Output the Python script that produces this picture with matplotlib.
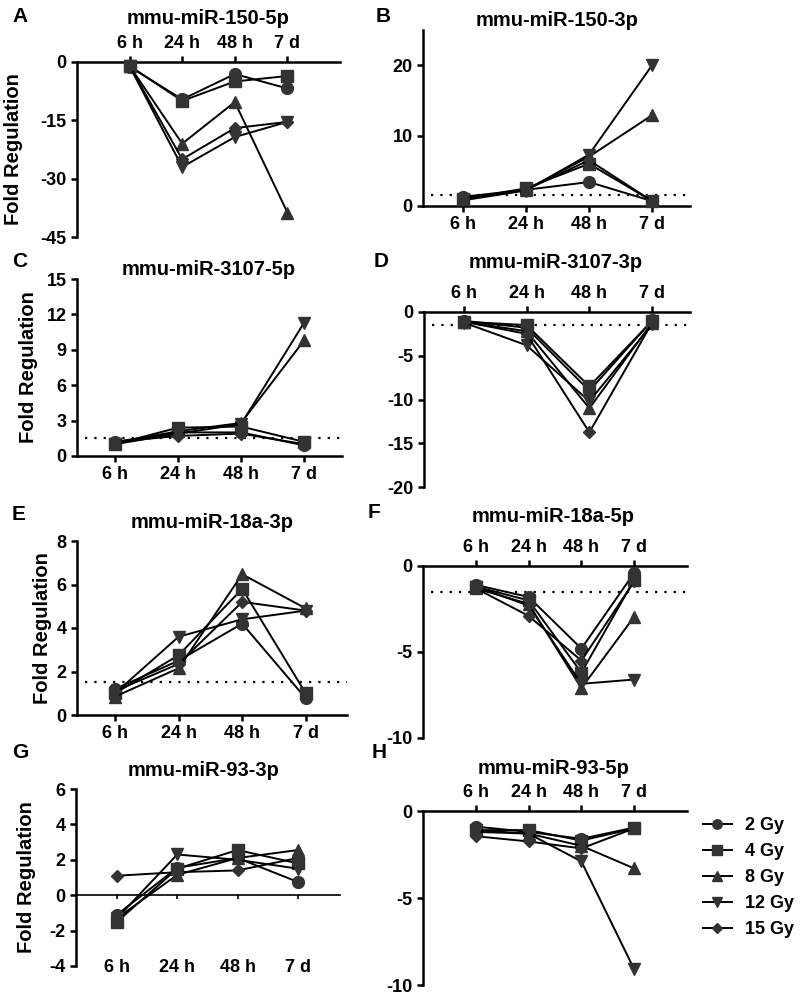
import numpy as np
import matplotlib.pyplot as plt

plt.rcParams['font.family'] = ['Liberation Sans', 'DejaVu Sans']
plt.rcParams['font.weight'] = 'bold'
plt.rcParams['axes.unicode_minus'] = False

times = ['6 h', '24 h', '48 h', '7 d']
doses = ['2 Gy', '4 Gy', '8 Gy', '12 Gy', '15 Gy']
markers = ['o', 's', '^', 'v', 'D']
msizes = [8.5, 8.5, 8.5, 8.5, 6.5]

# one row per dose (2, 4, 8, 12, 15 Gy), one column per time point
mir150_5p = [[-1.2, -9.6, -3.1, -6.8],
             [-1.0, -10.0, -5.0, -3.6],
             [-1.0, -21.0, -10.3, -38.7],
             [-1.1, -27.0, -19.3, -15.4],
             [-1.0, -25.0, -17.0, -15.4]]
mir150_3p = [[1.3, 2.3, 3.4, 0.7],
             [1.0, 2.5, 6.0, 0.7],
             [1.0, 2.3, 7.0, 12.9],
             [0.8, 2.2, 7.3, 20.0],
             [1.1, 2.3, 6.5, 0.7]]
mir3107_5p = [[1.2, 2.0, 2.0, 0.9],
              [1.0, 2.4, 2.5, 1.2],
              [1.1, 2.1, 2.8, 9.8],
              [1.0, 1.9, 2.7, 11.3],
              [1.2, 1.7, 1.9, 1.0]]
mir3107_3p = [[-1.0, -1.8, -9.0, -0.95],
              [-1.1, -1.5, -8.5, -1.0],
              [-1.1, -2.2, -11.0, -1.2],
              [-1.2, -3.8, -10.2, -1.4],
              [-1.1, -2.5, -13.75, -1.2]]
mir18a_3p = [[1.2, 2.5, 4.2, 0.77],
             [1.0, 2.75, 5.8, 1.0],
             [0.85, 2.15, 6.47, 4.9],
             [1.0, 3.6, 4.4, 4.8],
             [1.1, 2.35, 5.2, 4.8]]
mir18a_5p = [[-1.1, -1.8, -4.8, -0.4],
             [-1.2, -2.0, -6.2, -0.8],
             [-1.3, -2.2, -7.1, -2.95],
             [-1.2, -2.3, -6.85, -6.6],
             [-1.3, -2.9, -5.5, -0.9]]
mir93_3p = [[-1.1, 1.55, 2.1, 0.75],
            [-1.5, 1.5, 2.55, 1.8],
            [-1.3, 1.15, 2.1, 2.55],
            [-1.3, 2.3, 2.0, 1.5],
            [1.1, 1.3, 1.4, 2.1]]
mir93_5p = [[-0.9, -1.2, -1.6, -0.95],
            [-1.1, -1.1, -1.7, -1.0],
            [-1.1, -1.3, -2.0, -3.3],
            [-1.2, -1.3, -2.9, -9.1],
            [-1.45, -1.75, -2.15, -1.0]]

W, H = 800, 998
fig = plt.figure(figsize=(8, 9.98), dpi=100)


def box(l, r, t, b):
    return [l / W, 1 - b / H, (r - l) / W, (b - t) / H]


# letter, title, data, box, ylim, yticks, xlim, axis side, threshold, ylabel x, letter x/y, title x/y
panels = [
    ('A', 'mmu-miR-150-5p', mir150_5p, box(77, 340, 62, 237), (-45, 0), [0, -15, -30, -45],
     (0, 5), 'top', None, 14, (12, 16), (208, 18)),
    ('B', 'mmu-miR-150-3p', mir150_3p, box(423, 690, 30, 206), (0, 25), [0, 10, 20],
     (0.37, 4.6), 'bottom', 1.5, None, (376, 16), (557, 20)),
    ('C', 'mmu-miR-3107-5p', mir3107_5p, box(77, 342, 279, 456), (0, 15), [0, 3, 6, 9, 12, 15],
     (0.4, 4.6), 'bottom', 1.5, 29, (12, 262), (209, 270)),
    ('D', 'mmu-miR-3107-3p', mir3107_3p, box(424, 690, 312, 487), (-20, 0), [0, -5, -10, -15, -20],
     (0.37, 4.6), 'top', -1.5, None, (374, 262), (556, 263)),
    ('E', 'mmu-miR-18a-3p', mir18a_3p, box(77, 347, 541, 715), (0, 8), [0, 2, 4, 6, 8],
     (0.4, 4.65), 'bottom', 1.5, 43, (12, 515), (212, 523)),
    ('F', 'mmu-miR-18a-5p', mir18a_5p, box(423, 687, 566, 738), (-10, 0), [0, -5, -10],
     (0, 5), 'top', -1.5, None, (368, 513), (553, 516)),
    ('G', 'mmu-miR-93-3p', mir93_3p, box(76, 340, 789, 966), (-4, 6), [-4, -2, 0, 2, 4, 6],
     (0.32, 4.7), 'zero', None, 27, (12, 753), (204, 770)),
    ('H', 'mmu-miR-93-5p', mir93_5p, box(423, 687, 811, 985), (-10, 0), [0, -5, -10],
     (0, 5), 'top', None, None, (372, 753), (554, 768)),
]

x = np.arange(1, 5)
handles = []
for (letter, title, data, rect, ylim, yticks, xlim, side, thr, ylx, lpos, tpos) in panels:
    ax = fig.add_axes(rect)
    handles = []
    for vals, m, ms in zip(data, markers, msizes):
        h, = ax.plot(x, vals, color='black', lw=1.4, marker=m, ms=ms,
                     mfc='#333333', mec='#333333', clip_on=False, zorder=3)
        handles.append(h)
    if thr is not None:
        ax.axhline(thr, xmin=0.03, xmax=1, color='black', lw=1.6, ls=(0, (1, 3.2)), zorder=1)
    ax.set_xlim(*xlim)
    ax.set_ylim(*ylim)
    ax.set_yticks(yticks)
    ax.set_xticks(x)
    ax.set_xticklabels(times)
    for s in ['right', 'top', 'bottom']:
        ax.spines[s].set_visible(False)
    ax.spines['left'].set_linewidth(1.8)
    ax.tick_params(axis='both', width=1.8, length=4, labelsize=13)
    ax.tick_params(axis='x', pad=3)
    if side == 'top':
        ax.spines['top'].set_visible(True)
        ax.spines['top'].set_linewidth(1.8)
        ax.xaxis.tick_top()
    elif side == 'bottom':
        ax.spines['bottom'].set_visible(True)
        ax.spines['bottom'].set_linewidth(1.8)
    else:
        # labels sit at the bottom, the axis line runs through zero
        ax.tick_params(axis='x', length=0, pad=-5)
        zero_frac = (0 - ylim[0]) / (ylim[1] - ylim[0])
        sec = ax.secondary_xaxis(zero_frac)
        sec.set_xticks(x)
        sec.set_xticklabels([])
        sec.spines['bottom'].set_linewidth(1.2)
        sec.tick_params(axis='x', direction='out', length=3, width=1.2)
    ax.set_facecolor('none')
    if ylx is not None:
        yc = rect[1] + rect[3] / 2
        fig.text(ylx / W, yc, 'Fold Regulation', fontsize=14.5, rotation=90,
                 ha='center', va='center')
    fig.text(lpos[0] / W, 1 - lpos[1] / H, letter, fontsize=15, ha='left', va='center')
    fig.text(tpos[0] / W, 1 - tpos[1] / H, title, fontsize=14.5, ha='center', va='center')

fig.legend(handles, doses, loc='upper left', bbox_to_anchor=(703 / W, 1 - 817 / H),
           frameon=False, fontsize=13, handlelength=1.6, handletextpad=0.75,
           labelspacing=0.5, borderaxespad=0, borderpad=0, markerscale=0.8)

fig.savefig('out.png', dpi=100)
